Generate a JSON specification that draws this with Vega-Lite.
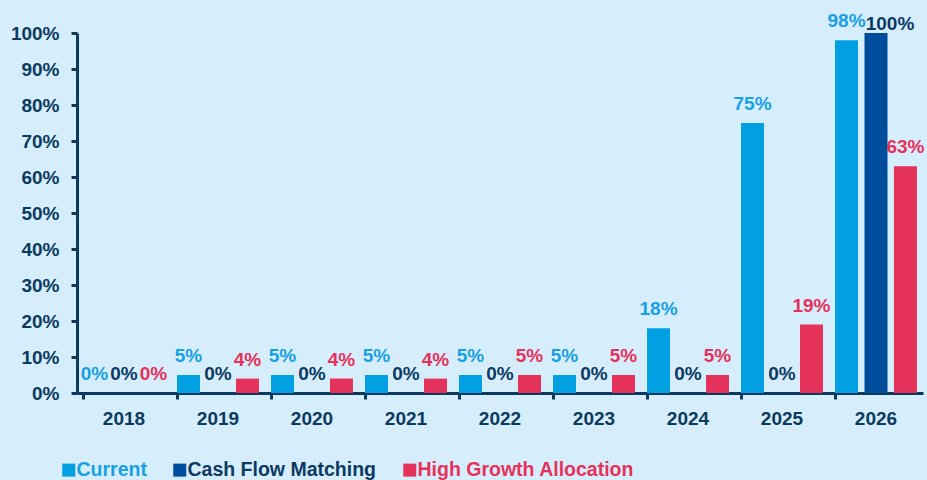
{
  "$schema": "https://vega.github.io/schema/vega-lite/v6.json",
  "autosize": "none",
  "width": 846,
  "height": 360,
  "padding": {"left": 77, "top": 33, "right": 4, "bottom": 87},
  "background": "#d6eefc",
  "config": {
    "view": {"stroke": null},
    "font": "Liberation Sans",
    "axis": {"labelFont": "Liberation Sans", "labelFontWeight": "bold", "labelFontSize": 19, "labelColor": "#0b3a5e", "domainColor": "#0b3a5e", "tickColor": "#0b3a5e", "domainWidth": 3, "tickWidth": 3, "grid": false, "title": null}
  },
  "data": {
    "values": [
      {"year": "2018", "series": "Current", "value": 0},
      {"year": "2018", "series": "Cash Flow Matching", "value": 0},
      {"year": "2018", "series": "High Growth Allocation", "value": 0},
      {"year": "2019", "series": "Current", "value": 5},
      {"year": "2019", "series": "Cash Flow Matching", "value": 0},
      {"year": "2019", "series": "High Growth Allocation", "value": 4},
      {"year": "2020", "series": "Current", "value": 5},
      {"year": "2020", "series": "Cash Flow Matching", "value": 0},
      {"year": "2020", "series": "High Growth Allocation", "value": 4},
      {"year": "2021", "series": "Current", "value": 5},
      {"year": "2021", "series": "Cash Flow Matching", "value": 0},
      {"year": "2021", "series": "High Growth Allocation", "value": 4},
      {"year": "2022", "series": "Current", "value": 5},
      {"year": "2022", "series": "Cash Flow Matching", "value": 0},
      {"year": "2022", "series": "High Growth Allocation", "value": 5},
      {"year": "2023", "series": "Current", "value": 5},
      {"year": "2023", "series": "Cash Flow Matching", "value": 0},
      {"year": "2023", "series": "High Growth Allocation", "value": 5},
      {"year": "2024", "series": "Current", "value": 18},
      {"year": "2024", "series": "Cash Flow Matching", "value": 0},
      {"year": "2024", "series": "High Growth Allocation", "value": 5},
      {"year": "2025", "series": "Current", "value": 75},
      {"year": "2025", "series": "Cash Flow Matching", "value": 0},
      {"year": "2025", "series": "High Growth Allocation", "value": 19},
      {"year": "2026", "series": "Current", "value": 98},
      {"year": "2026", "series": "Cash Flow Matching", "value": 100},
      {"year": "2026", "series": "High Growth Allocation", "value": 63}
    ]
  },
  "encoding": {
    "x": {
      "field": "year", "type": "nominal",
      "scale": {"paddingInner": 0.128, "paddingOuter": 0.064},
      "axis": {"labelAngle": 0, "bandPosition": 0, "tickSize": 6, "labelPadding": 10}
    },
    "xOffset": {
      "field": "series", "type": "nominal",
      "sort": ["Current", "Cash Flow Matching", "High Growth Allocation"],
      "scale": {"paddingInner": 0.22, "paddingOuter": 0}
    },
    "y": {
      "field": "value", "type": "quantitative",
      "scale": {"domain": [0, 100]},
      "axis": {"values": [0, 10, 20, 30, 40, 50, 60, 70, 80, 90, 100], "labelExpr": "datum.value + '%'", "tickSize": 6, "labelPadding": 12}
    }
  },
  "resolve": {"scale": {"color": "independent"}},
  "layer": [
    {
      "mark": {"type": "bar"},
      "encoding": {
        "color": {
          "field": "series", "type": "nominal",
          "scale": {"domain": ["Current", "Cash Flow Matching", "High Growth Allocation"], "range": ["#00a0e3", "#004e9b", "#e5325b"]},
          "legend": {
            "title": null, "orient": "none", "direction": "horizontal",
            "legendX": -18, "legendY": 427,
            "symbolType": "square", "symbolSize": 169, "symbolStrokeWidth": 0,
            "labelFont": "Liberation Sans", "labelFontWeight": "bold", "labelFontSize": 19.5,
            "labelLimit": 0, "labelOffset": -2, "columnPadding": 23,
            "encode": {"labels": {"update": {"fill": {"signal": "datum.value === 'Current' ? '#18a0e0' : datum.value === 'Cash Flow Matching' ? '#0c3a62' : '#e5325b'"}}}}
          }
        }
      }
    },
    {
      "transform": [
        {"filter": "datum.value < 100"},
        {"calculate": "datum.value + '%'", "as": "label"}
      ],
      "mark": {"type": "text", "baseline": "alphabetic", "dy": -13, "fontWeight": "bold", "fontSize": 19, "font": "Liberation Sans"},
      "encoding": {
        "text": {"field": "label", "type": "nominal"},
        "color": {
          "field": "series", "type": "nominal",
          "scale": {"domain": ["Current", "Cash Flow Matching", "High Growth Allocation"], "range": ["#18a0e0", "#0c3a62", "#e5325b"]},
          "legend": null
        }
      }
    },
    {
      "transform": [
        {"filter": "datum.value >= 100"},
        {"calculate": "datum.value + '%'", "as": "label"}
      ],
      "mark": {"type": "text", "baseline": "alphabetic", "dx": 14, "dy": -3, "fontWeight": "bold", "fontSize": 19, "font": "Liberation Sans", "color": "#0c3a62"},
      "encoding": {
        "text": {"field": "label", "type": "nominal"}
      }
    }
  ]
}
